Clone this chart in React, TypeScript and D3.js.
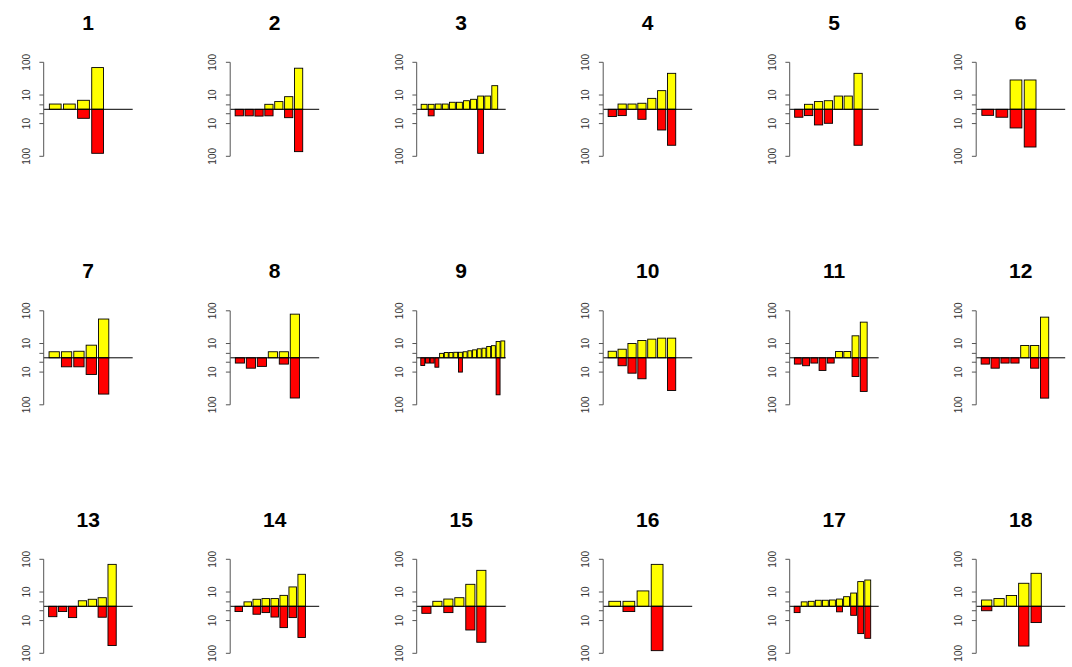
import React from 'react';
import * as d3 from 'd3';

// panel titles, in reading order (3 rows x 6 columns)
const panelTitles = ['1', '2', '3', '4', '5', '6', '7', '8', '9', '10', '11', '12', '13', '14', '15', '16', '17', '18'];

// yellow bars (up) and red bars (down), counts per bar, 0 = no bar
const upCounts = [
  [5.3, 5.3, 6.9, 69],
  [0, 0, 0, 5.2, 6.3, 8.9, 66],
  [5.2, 5.2, 5.3, 5.3, 6.0, 6.0, 6.7, 7.4, 9.3, 9.3, 19.3],
  [0, 5.3, 5.3, 5.6, 7.9, 13.6, 46],
  [0, 5.2, 6.3, 6.7, 9.3, 9.3, 46],
  [0, 0, 28.8, 28.8],
  [5.6, 5.6, 5.8, 8.9, 56],
  [0, 0, 0, 5.6, 5.6, 79],
  [0, 0, 0, 0, 5.0, 5.3, 5.3, 5.4, 5.4, 5.6, 6.0, 6.4, 6.9, 7.2, 8.1, 8.6, 11.5, 12.0],
  [5.8, 6.7, 10, 12.4, 13.6, 14.6, 14.6],
  [0, 0, 0, 0, 0, 5.7, 5.7, 17.2, 45],
  [0, 0, 0, 0, 8.7, 8.7, 64],
  [0, 0, 0, 5.4, 6.0, 6.7, 70],
  [0, 5.0, 6.0, 6.3, 6.3, 7.9, 14.3, 34.8],
  [0, 5.2, 6.1, 6.7, 17.2, 46],
  [5.2, 5.2, 10.8, 70],
  [0, 5.0, 5.2, 5.6, 5.6, 5.7, 6.1, 7.2, 9.3, 20.8, 23.3],
  [5.7, 6.3, 7.8, 18.5, 37.3],
];

const downCounts = [
  [0, 0, 6.9, 81],
  [5.8, 5.8, 5.9, 5.8, 0, 6.6, 72],
  [0, 5.8, 0, 0, 0, 0, 0, 0, 81, 0, 0],
  [6.1, 5.7, 0, 7.4, 0, 15.7, 46],
  [6.4, 5.7, 11, 9.8, 0, 0, 46],
  [5.6, 6.4, 13.6, 52],
  [0, 6.9, 6.9, 11.8, 47],
  [5.3, 7.6, 6.7, 0, 5.7, 62],
  [6.3, 5.3, 5.3, 7.1, 0, 0, 0, 0, 10, 0, 0, 0, 0, 0, 0, 0, 49.5, 0],
  [0, 6.4, 10.8, 16, 0, 0, 36.5],
  [5.7, 6.4, 5.3, 8.9, 5.3, 0, 0, 13.6, 39],
  [5.7, 7.6, 5.3, 5.3, 0, 7.6, 62.5],
  [7.6, 5.3, 8.1, 0, 0, 7.9, 58],
  [5.3, 0, 6.4, 5.7, 7.8, 16.4, 8.1, 33],
  [6.0, 0, 5.7, 0, 19.4, 46],
  [0, 5.3, 0, 83],
  [5.7, 0, 0, 0, 0, 0, 5.4, 0, 6.9, 25, 34.8],
  [5.0, 0, 0, 60, 11.5],
];

const tickValues = [100, 10, 5];
const tickLabels = ['100', '10', ''];

const W = 1072;
const H = 667;
const NCOL = 6;
const COL0 = 43.7;
const COLSTEP = 186.5;
const ROW0 = 109.3;
const ROWSTEP = 248.5;
const PW = 89;
const HALF = 47;
const BASEVAL = 3.66;
const FONT = '"Liberation Sans", Arial, Helvetica, sans-serif';

const Panel = ({ idx }: { idx: number }) => {
  const col = idx % NCOL;
  const row = Math.floor(idx / NCOL);
  const left = COL0 + col * COLSTEP;
  const base = ROW0 + row * ROWSTEP;
  const up = upCounts[idx];
  const down = downCounts[idx];
  const k = up.length;
  const span = k + 3;

  const x = d3.scaleLinear()
    .domain([-0.04 * span, 1.04 * span])
    .range([left, left + PW]);
  const yUp = d3.scaleLog().domain([BASEVAL, 100]).range([base, base - HALF]);
  const yDown = d3.scaleLog().domain([BASEVAL, 100]).range([base, base + HALF]);

  const bars = d3.range(k).map(i => ({ i, x0: x(0.2 + 1.2 * i), x1: x(1.2 + 1.2 * i) }));

  return (
    <g>
      <text x={left + PW / 2} y={base - 79.8} textAnchor="middle" fontFamily={FONT}
        fontWeight="bold" fontSize={21} fill="#000">{panelTitles[idx]}</text>

      {bars.map(b => up[b.i] > 0 && (
        <rect key={'u' + b.i} x={b.x0} width={b.x1 - b.x0} y={yUp(up[b.i])}
          height={base - yUp(up[b.i])} fill="#FFFF00" stroke="#000" strokeWidth={0.9} />
      ))}
      {bars.map(b => down[b.i] > 0 && (
        <rect key={'d' + b.i} x={b.x0} width={b.x1 - b.x0} y={base}
          height={yDown(down[b.i]) - base} fill="#FF0000" stroke="#000" strokeWidth={0.9} />
      ))}

      <line x1={left} x2={left + PW} y1={base} y2={base} stroke="#000" strokeWidth={1} />

      <line x1={left} x2={left} y1={yUp(100)} y2={yDown(100)} stroke="#555" strokeWidth={1} />
      {[yUp, yDown].map((s, si) => tickValues.map((t, ti) => (
        <g key={si + '-' + ti}>
          <line x1={left - 4.3} x2={left} y1={s(t)} y2={s(t)} stroke="#555" strokeWidth={1} />
          {tickLabels[ti] && (
            <text transform={`translate(${left - 14},${s(t)}) rotate(-90)`} textAnchor="middle"
              fontFamily={FONT} fontSize={10} fill="#333">{tickLabels[ti]}</text>
          )}
        </g>
      )))}
    </g>
  );
};

const App = () => (
  <svg width={W} height={H} style={{ position: 'fixed', left: 0, top: 0, background: '#fff' }}>
    <rect width={W} height={H} fill="#fff" />
    {panelTitles.map((_, i) => <Panel key={i} idx={i} />)}
  </svg>
);

export default App;
